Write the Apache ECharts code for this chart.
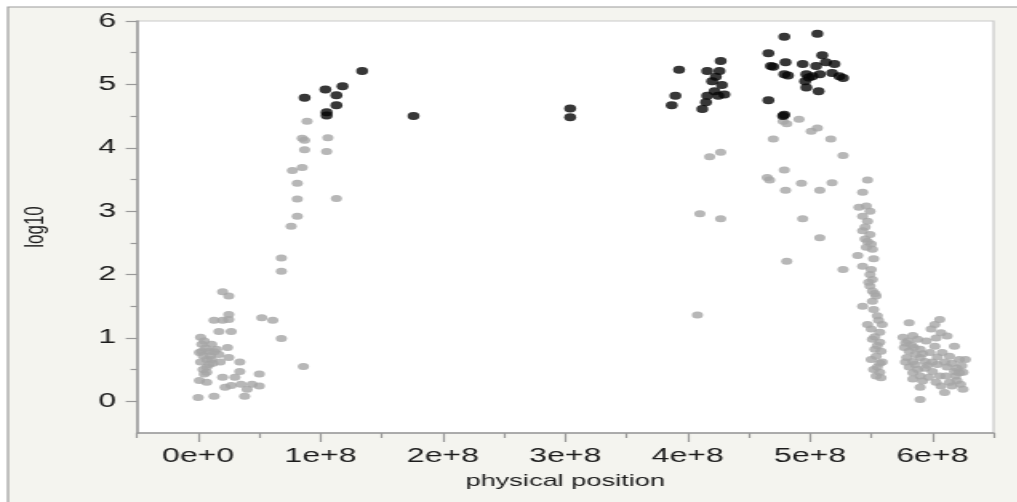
<!DOCTYPE html>
<html>
<head>
<meta charset="utf-8">
<script src="https://cdn.jsdelivr.net/npm/echarts@6/dist/echarts.min.js"></script>
<style>
html,body{margin:0;padding:0;background:#ffffff;overflow:hidden;}
#wrap{width:1017px;height:502px;overflow:hidden;}
#chart{width:635.6px;height:502px;transform-origin:0 0;transform:scaleX(1.6);}
</style>
</head>
<body>
<div id="wrap"><div id="chart"></div></div>
<script>
// physical positions are in units of 1e8
var majorTicksX = [0, 1, 2, 3, 4, 5, 6];
var minorTicksX = [-0.5, 0.5, 1.5, 2.5, 3.5, 4.5, 5.5, 6.5];
var majorTicksY = [0, 1, 2, 3, 4, 5, 6];
var minorTicksY = [0.5, 1.5, 2.5, 3.5, 4.5, 5.5];

// gray (non-significant) points
var grayPos = [
  0.00,0.13,0.38,0.01,0.07,0.20,0.27,0.35,0.44,0.50,0.50,0.34,0.34,0.25,0.24,0.02,0.05,0.03,0.01,0.09,0.15,0.07,0.11,0.07,0.07,0.17,0.27,0.13,0.20,0.25,0.25,0.20,0.25,0.52,0.61,0.68,0.86,0.68,0.68,0.03,0.11,0.17,0.05,0.30,0.22,0.40,0.09,
  0.04,0.10,0.13,0.06,0.12,0.02,0.18,0.04,
  0.89,0.85,0.87,0.87,1.06,1.05,0.85,0.77,0.81,0.81,1.13,0.81,0.76,
  4.81,4.78,4.91,5.01,5.06,4.70,5.17,5.27,4.18,4.27,4.79,4.65,4.67,4.80,4.93,5.08,5.18,4.27,4.94,4.10,5.08,4.81,4.08,
  5.47,5.43,5.40,5.46,5.49,5.43,5.47,5.43,5.49,5.45,5.50,5.46,5.51,5.39,5.27,5.43,5.50,5.49,5.51,5.49,5.51,5.54,5.51,5.43,5.52,5.55,5.59,5.50,5.57,5.51,5.57,5.53,5.58,5.54,5.59,5.55,5.57,5.58,5.54,5.50,5.47,
  5.45,5.47,5.52,5.48,5.53,5.56,5.53,5.55,5.57,5.52,
  5.81,6.02,6.06,5.99,6.07,6.12,6.18,5.76,5.80,5.84,5.88,5.77,5.81,5.85,5.90,5.79,5.84,5.90,5.94,5.81,5.88,5.96,6.02,5.98,6.08,6.14,6.22,6.24,5.90,5.84,5.92,6.06,6.11,6.19,6.25,5.90,6.07,6.10,6.16,6.23,5.90,6.04,6.12,6.18,6.00,6.25,6.27,
  5.78,5.83,5.86,5.92,5.78,5.86,5.94,6.00,6.04,6.10,6.16,6.20,6.14,6.20,6.03,5.97,6.22,5.95,6.03,5.84
];
var grayLog10 = [
  0.06,0.08,0.08,0.33,0.30,0.38,0.25,0.27,0.27,0.43,0.24,0.47,0.62,0.69,0.85,1.01,0.95,0.79,0.77,0.79,0.82,0.66,0.66,0.54,0.46,1.10,1.10,1.28,1.28,1.29,1.37,1.73,1.66,1.32,1.28,0.99,0.55,2.26,2.05,0.90,0.90,0.74,0.43,0.38,0.22,0.19,0.58,
  0.72,0.72,0.78,0.84,0.60,0.62,0.62,0.50,
  4.42,4.15,4.12,3.97,4.16,3.94,3.69,3.64,3.44,3.19,3.20,2.92,2.76,
  4.38,4.42,4.45,4.26,4.31,4.14,4.14,3.88,3.86,3.93,3.65,3.53,3.49,3.33,3.44,3.33,3.45,2.88,2.88,2.96,2.58,2.21,1.36,
  3.49,3.30,3.06,3.08,3.00,2.92,2.84,2.69,2.63,2.56,2.48,2.43,2.40,2.30,2.08,2.13,2.08,2.00,1.92,1.82,1.74,1.66,1.58,1.50,1.45,1.35,1.21,1.14,1.09,0.98,0.93,0.82,0.79,0.71,0.62,0.54,0.46,0.37,0.40,0.66,1.21,
  2.75,2.52,2.25,1.88,1.70,1.28,1.02,0.88,0.60,0.50,
  1.24,1.21,1.29,1.14,1.08,1.03,0.87,1.01,0.95,1.04,0.98,0.85,0.79,0.85,0.82,0.69,0.63,0.69,0.63,0.54,0.50,0.57,0.87,0.77,0.77,0.71,0.66,0.56,0.40,0.35,0.32,0.40,0.40,0.40,0.46,0.22,0.24,0.14,0.24,0.27,0.03,0.58,0.54,0.47,0.47,0.19,0.66,
  0.92,0.89,0.74,0.75,0.62,0.58,0.52,0.62,0.70,0.62,0.60,0.52,0.30,0.33,0.30,0.38,0.45,0.95,1.00,0.45
];

// black (significant) points
var blackPos = [
  0.87,1.04,1.18,1.13,1.13,1.05,1.05,1.34,
  1.76,
  3.04,3.04,
  3.93,3.90,3.87,4.16,4.27,4.26,4.23,4.28,4.22,4.30,4.16,4.15,4.12,4.25,4.20,
  4.79,5.06,4.66,4.68,4.70,4.80,4.79,4.94,4.97,4.96,4.97,5.10,5.05,5.13,5.20,5.08,5.02,5.18,5.24,5.27,5.07,4.66,4.79,4.78,4.82,4.99
];
var blackLog10 = [
  4.79,4.92,4.97,4.83,4.67,4.56,4.51,5.21,
  4.50,
  4.62,4.48,
  5.23,4.82,4.67,5.21,5.37,5.21,5.12,4.99,4.89,4.84,4.82,4.72,4.61,4.82,5.05,
  5.75,5.80,5.49,5.29,5.28,5.35,5.16,5.32,5.16,5.05,4.95,5.46,5.29,5.35,5.32,5.16,5.13,5.18,5.13,5.10,4.89,4.75,4.52,4.50,5.14,5.11
];

var S = 1.6; // horizontal stretch of the reference picture
function toPairs(p, v) { return p.map(function (x, i) { return [x * 1e8, v[i]]; }); }
function e8(a) { return a.map(function (x) { return x * 1e8; }); }

var FONT = 'Liberation Sans, Arial, sans-serif';
var chart = echarts.init(document.getElementById('chart'), null, {renderer: 'canvas'});
chart.setOption({
  animation: false,
  backgroundColor: 'transparent',
  graphic: {
    elements: [{
      type: 'rect', z: -10, silent: true,
      shape: {x: 8 / S, y: 7, width: 1100 / S, height: 520},
      style: {fill: '#f4f4ef', stroke: '#9c9c9c', lineWidth: 1.2}
    }]
  },
  grid: {
    left: 137 / S, right: 24 / S, top: 21, bottom: 69,
    show: true, backgroundColor: '#ffffff', borderColor: '#c9c9c9', borderWidth: 1.2
  },
  xAxis: [{
    type: 'value', min: -0.5e8, max: 6.5e8, position: 'bottom',
    axisLine: {show: true, onZero: false, lineStyle: {color: '#999999', width: 1.5}},
    axisTick: {show: true, customValues: e8(majorTicksX), length: 9, lineStyle: {color: '#999999', width: 1.2}},
    axisLabel: {customValues: e8(majorTicksX), margin: 13, fontSize: 20, color: '#1c1c1c', fontFamily: FONT,
      formatter: function (v) { return v === 0 ? '0e+0' : Math.round(v / 1e8) + 'e+8'; }},
    splitLine: {show: false},
    name: 'physical position', nameLocation: 'middle', nameGap: 40,
    nameTextStyle: {fontSize: 17, color: '#1c1c1c', fontFamily: FONT}
  }, {
    type: 'value', min: -0.5e8, max: 6.5e8, position: 'bottom',
    axisLine: {show: false, onZero: false},
    axisTick: {show: true, customValues: e8(minorTicksX), length: 5, lineStyle: {color: '#999999', width: 1.2}},
    axisLabel: {show: false},
    splitLine: {show: false}
  }],
  yAxis: [{
    type: 'value', min: -0.5, max: 6, position: 'left',
    axisLine: {show: true, onZero: false, lineStyle: {color: '#999999', width: 1.5}},
    axisTick: {show: true, customValues: majorTicksY, length: 7, lineStyle: {color: '#999999', width: 1.2}},
    axisLabel: {customValues: majorTicksY, margin: 13, fontSize: 20, color: '#1c1c1c', fontFamily: FONT},
    splitLine: {show: false},
    name: 'log10', nameLocation: 'middle', nameGap: 55, nameRotate: 90,
    nameTextStyle: {fontSize: 17, color: '#1c1c1c', fontFamily: FONT}
  }, {
    type: 'value', min: -0.5, max: 6, position: 'left',
    axisLine: {show: false, onZero: false},
    axisTick: {show: true, customValues: minorTicksY, length: 4, lineStyle: {color: '#999999', width: 1.2}},
    axisLabel: {show: false},
    splitLine: {show: false}
  }],
  series: [{
    type: 'scatter', xAxisIndex: 0, yAxisIndex: 0, silent: true,
    symbol: 'circle', symbolSize: 7,
    itemStyle: {color: '#a5a5a5'},
    data: toPairs(grayPos, grayLog10)
  }, {
    type: 'scatter', xAxisIndex: 0, yAxisIndex: 0, silent: true,
    symbol: 'circle', symbolSize: [7.5, 8],
    itemStyle: {color: '#050505'},
    data: toPairs(blackPos, blackLog10)
  }]
});
</script>
</body>
</html>
